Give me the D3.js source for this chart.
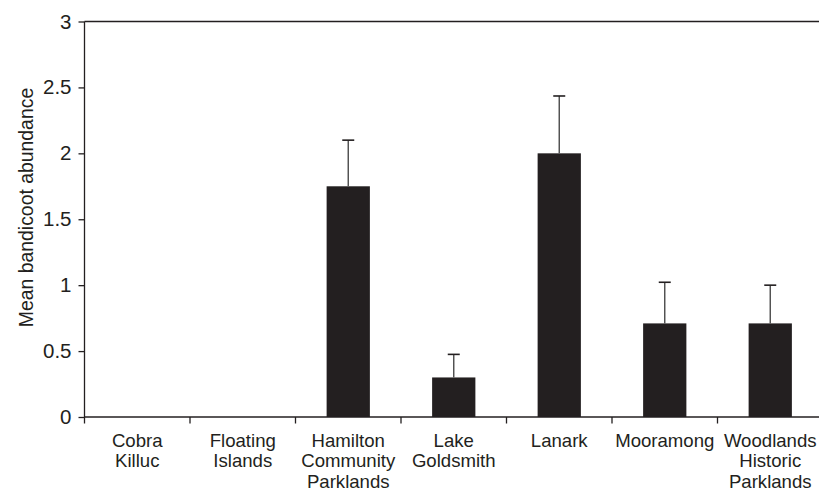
<!DOCTYPE html>
<head>
  <meta charset="utf-8">
  <title>bandicoot abundance</title>
  <script src="https://d3js.org/d3.v7.min.js"></script>
  <style>
    body { margin: 0; background: #fff; }
    text { font-family: "Liberation Sans", Arial, sans-serif; fill: #231f20; }
  </style>
</head>
<body>
<script>
  var sites = ["Cobra Killuc", "Floating Islands", "Hamilton Community Parklands",
               "Lake Goldsmith", "Lanark", "Mooramong", "Woodlands Historic Parklands"];
  var siteLines = [["Cobra", "Killuc"], ["Floating", "Islands"], ["Hamilton", "Community", "Parklands"],
                   ["Lake", "Goldsmith"], ["Lanark"], ["Mooramong"], ["Woodlands", "Historic", "Parklands"]];
  var meanAbundance = [0, 0, 1.75, 0.3, 2.0, 0.71, 0.71];
  var errorUpper = [0, 0, 2.1, 0.475, 2.435, 1.022, 1.0];
  var yTicks = [0, 0.5, 1, 1.5, 2, 2.5, 3];

  var ink = "#231f20";
  var svg = d3.select("body").append("svg")
      .attr("width", 819)
      .attr("height", 494);

  var x = d3.scaleBand().domain(sites).range([84.5, 823]).padding(0);
  var y = d3.scaleLinear().domain([0, 3]).range([417, 21.5]);
  var barW = x.bandwidth() * 0.41;

  // top frame line
  svg.append("line")
      .attr("x1", 84.5).attr("x2", 819)
      .attr("y1", y(3)).attr("y2", y(3))
      .style("stroke", ink).style("stroke-width", 1.3);

  // bars
  svg.selectAll("rect.bar")
      .data(sites)
      .enter()
      .append("rect")
      .attr("class", "bar")
      .attr("x", function(d) { return x(d) + x.bandwidth() / 2 - barW / 2; })
      .attr("width", barW)
      .attr("y", function(d, i) { return y(meanAbundance[i]); })
      .attr("height", function(d, i) { return y(0) - y(meanAbundance[i]); })
      .style("fill", ink);

  // error bars (upper only)
  var err = svg.selectAll("g.err")
      .data(sites.filter(function(d, i) { return errorUpper[i] > meanAbundance[i]; }))
      .enter()
      .append("g")
      .attr("class", "err");
  err.append("line")
      .attr("x1", function(d) { return x(d) + x.bandwidth() / 2; })
      .attr("x2", function(d) { return x(d) + x.bandwidth() / 2; })
      .attr("y1", function(d) { return y(meanAbundance[sites.indexOf(d)]); })
      .attr("y2", function(d) { return y(errorUpper[sites.indexOf(d)]); })
      .style("stroke", "#4a4a4a").style("stroke-width", 1.4);
  err.append("line")
      .attr("x1", function(d) { return x(d) + x.bandwidth() / 2 - 6; })
      .attr("x2", function(d) { return x(d) + x.bandwidth() / 2 + 6; })
      .attr("y1", function(d) { return y(errorUpper[sites.indexOf(d)]); })
      .attr("y2", function(d) { return y(errorUpper[sites.indexOf(d)]); })
      .style("stroke", ink).style("stroke-width", 1.6);

  // y axis
  var yAxis = svg.append("g")
      .attr("transform", "translate(84.5,0)")
      .call(d3.axisLeft(y).tickValues(yTicks).tickSize(6).tickPadding(7)
            .tickFormat(function(d) { return String(d); }));
  yAxis.selectAll("path, line").style("stroke", ink).style("stroke-width", 1.3);
  yAxis.select("path").attr("d", "M0," + y(3) + "V" + y(0));
  yAxis.selectAll("text").style("font-size", "20.5px").style("fill", ink)
      .style("font-family", "'Liberation Sans', Arial, sans-serif");

  // x axis: ticks at band edges
  svg.append("line")
      .attr("x1", 84.5).attr("x2", 819)
      .attr("y1", y(0)).attr("y2", y(0))
      .style("stroke", ink).style("stroke-width", 1.3);
  svg.selectAll("line.xtick")
      .data(sites)
      .enter()
      .append("line")
      .attr("class", "xtick")
      .attr("x1", function(d) { return x(d); })
      .attr("x2", function(d) { return x(d); })
      .attr("y1", y(0)).attr("y2", y(0) + 6.5)
      .style("stroke", ink).style("stroke-width", 1.3);

  var labels = svg.selectAll("text.xlab")
      .data(sites)
      .enter()
      .append("text")
      .attr("class", "xlab")
      .attr("text-anchor", "middle")
      .attr("x", function(d) { return x(d) + x.bandwidth() / 2; })
      .attr("y", 446.7)
      .style("font-size", "18.6px");
  labels.selectAll("tspan")
      .data(function(d, i) { return siteLines[i]; })
      .enter()
      .append("tspan")
      .attr("x", function() { return d3.select(this.parentNode).attr("x"); })
      .attr("dy", function(d, i) { return i === 0 ? 0 : 20.7; })
      .text(function(d) { return d; });

  // y axis title
  svg.append("text")
      .attr("transform", "translate(33," + 207.5 + ") rotate(-90)")
      .attr("text-anchor", "middle")
      .style("font-size", "19.4px")
      .text("Mean bandicoot abundance");
</script>
</body>
